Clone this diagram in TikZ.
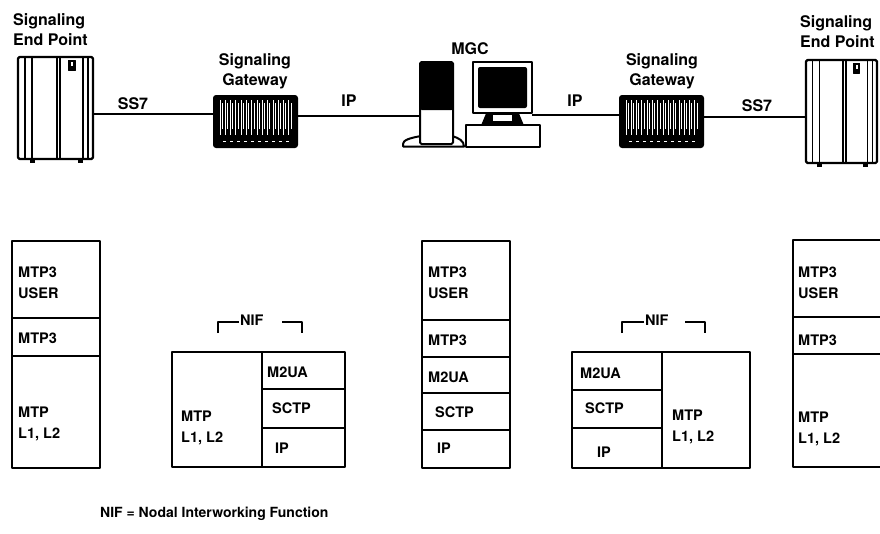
\documentclass[tikz,border=0pt]{standalone}
\usepackage{fontspec}
\setmainfont{TeX Gyre Heros}
\usetikzlibrary{calc}

\tikzset{
  toplbl/.style={font=\bfseries\fontsize{16}{20}\selectfont, inner sep=0, align=center},
  stk/.style={font=\bfseries\fontsize{14.5}{20.5}\selectfont, inner sep=0, align=left, anchor=north west},
  layer/.style={draw, line width=2.2pt},
  wire/.style={line width=2.3pt},
  bracket/.style={line width=2pt},
  devbox/.style={inner sep=0, anchor=north west},
  % telephone-exchange cabinet, origin at its top left corner
  cabinet/.pic={
    \draw[line width=2.2pt, fill=white, rounded corners=1.5pt] (0,0) rectangle (75,102);
    \foreach \x in {7,14,39,42,65,70} \draw[line width=1.5pt] (\x,0) -- (\x,102);
    \filldraw[line width=1pt] (50,3) rectangle (57,13);
    \fill[white] (52.5,5) rectangle (54.5,9);
    \fill (12,102) rectangle (17,105.5);
    \fill (60,102) rectangle (65,105.5);
  },
  % signaling gateway rack, origin at its top left corner
  gateway/.pic={
    \fill[rounded corners=3pt] (0,0) rectangle (85,53);
    \foreach \i in {0,...,13} {
      \draw[white, line width=0.9pt] ({7+\i*5.3},5) -- ({7+\i*5.3},40);
      \draw[white, line width=0.5pt] ({9+\i*5.3},8) -- ({9+\i*5.3},34);
    }
    \foreach \i in {0,...,9} \draw[white, line width=0.9pt] ({10+\i*7},46) -- ++(3,0);
  }
}

\begin{document}
\begin{tikzpicture}[x=1pt, y=-1pt, line join=round]
\useasboundingbox (0,0) rectangle (880,533);

% ---------------- network devices ----------------
\node[devbox, minimum width=75, minimum height=102] (epL) at (18,57) {};
\pic at (18,57) {cabinet};
\node[toplbl, align=left, anchor=north west] (epLlbl) at (13,13) {Signaling\\End Point};

\node[devbox, minimum width=85, minimum height=53] (gwL) at (213,95) {};
\pic at (213,95) {gateway};
\node[toplbl, anchor=north] (gwLlbl) at (255,53) {Signaling\\Gateway};

% media gateway controller: tower and workstation
\node[devbox, minimum width=33, minimum height=83] (tower) at (420,62) {};
\node[devbox, minimum width=59, minimum height=51] (monitor) at (473,62) {};
\draw[line width=2pt, fill=white] (421,136) .. controls (410,138) and (403,140) .. (403,144)
  -- (403,146.5) -- (464,146.5) .. controls (464,141) and (459,138) .. (452,136) -- cycle;
\draw[line width=2pt, fill=white, rounded corners=1.5pt] (420,62) rectangle (453,144);
\fill[rounded corners=1.5pt] (420,62) rectangle (453,110);
\filldraw[line width=1.5pt] (482,125) -- (487,113) -- (518,113) -- (523,125) -- cycle;
\fill[white] (493,115) rectangle (512,121);
\draw[line width=2pt, fill=white] (466,125) rectangle (540,147);
\draw[line width=2pt, fill=white] (473,62) rectangle (532,113);
\fill[rounded corners=2pt] (478,67) rectangle (527,108);
\node[toplbl, anchor=north] (mgclbl) at (470,42) {MGC};

\node[devbox, minimum width=85, minimum height=53] (gwR) at (619,95) {};
\pic at (619,95) {gateway};
\node[toplbl, anchor=north] (gwRlbl) at (662,53) {Signaling\\Gateway};

\node[devbox, minimum width=71, minimum height=103] (epR) at (806,60) {};
\pic[xscale=0.947, yscale=1.01] at (806,60) {cabinet};
\node[toplbl, align=left, anchor=north west] (epRlbl) at (800,15) {Signaling\\End Point};

% ---------------- links ----------------
\coordinate (l1) at ($(epL.east)+(0,6)$);
\draw[wire] (l1) -- (l1 -| gwL.west);
\node[toplbl, anchor=north] (ss7L) at (133,97) {SS7};

\coordinate (l2) at ($(gwL.east)+(0,-6)$);
\draw[wire] (l2) -- (l2 -| tower.west);
\node[toplbl, anchor=north] (ipL) at (349,95) {IP};

\coordinate (l3) at ($(monitor.east)+(0,27.5)$);
\draw[wire] (l3) -- (l3 -| gwR.west);
\node[toplbl, anchor=north] (ipR) at (575,95) {IP};

\coordinate (l4) at ($(gwR.east)+(0,-5)$);
\draw[wire] (l4) -- (l4 -| epR.west);
\node[toplbl, anchor=north] (ss7R) at (757,99) {SS7};

% ---------------- protocol stacks ----------------
% left signaling end point
\draw[layer] (12,241) rectangle (100,468);
\draw[layer] (12,318) -- (100,318) (12,356) -- (100,356);
\node[stk] (aUser) at (18,267) {MTP3\\USER};
\node[stk] (aMtp3) at (18,333) {MTP3};
\node[stk] (aMtp)  at (18,407) {MTP\\L1, L2};

% left gateway (NIF)
\draw[layer] (172,352) rectangle (345,467);
\draw[layer] (262,352) -- (262,467) (262,389) -- (345,389) (262,428) -- (345,428);
\node[stk] (bMtp)  at (181,411) {MTP\\L1, L2};
\node[stk] (bM2ua) at (267,367) {M2UA};
\node[stk] (bSctp) at (272,403) {SCTP};
\node[stk] (bIp)   at (275,443) {IP};
\node[stk] (nifL)  at (240,315) {NIF};
\draw[bracket] (218,333) -- (218,322) -- (239,322);
\draw[bracket] (282,322) -- (302,322) -- (302,333);

% media gateway controller
\draw[layer] (422,241) rectangle (510,468);
\draw[layer] (422,320) -- (510,320) (422,357) -- (510,357) (422,393) -- (510,393) (422,430) -- (510,430);
\node[stk] (cUser) at (428,267) {MTP3\\USER};
\node[stk] (cMtp3) at (428,335) {MTP3};
\node[stk] (cM2ua) at (428,372) {M2UA};
\node[stk] (cSctp) at (435,407) {SCTP};
\node[stk] (cIp)   at (437,443) {IP};

% right gateway (NIF)
\draw[layer] (572,352) rectangle (750,468);
\draw[layer] (662,352) -- (662,468) (572,390) -- (662,390) (572,428) -- (662,428);
\node[stk] (dM2ua) at (580,368) {M2UA};
\node[stk] (dSctp) at (585,403) {SCTP};
\node[stk] (dIp)   at (597,447) {IP};
\node[stk] (dMtp)  at (672,410) {MTP\\L1, L2};
\node[stk] (nifR)  at (645,315) {NIF};
\draw[bracket] (622,333) -- (622,322) -- (644,322);
\draw[bracket] (685,322) -- (705,322) -- (705,333);

% right signaling end point
\draw[layer] (793,240) rectangle (884,467);
\draw[layer] (793,317) -- (884,317) (793,354) -- (884,354);
\node[stk] (eUser) at (798,267) {MTP3\\USER};
\node[stk] (eMtp3) at (798,335) {MTP3};
\node[stk] (eMtp)  at (798,412) {MTP\\L1, L2};

% legend
\node[stk, font=\bfseries\fontsize{14}{17}\selectfont] (legend) at (100,507) {NIF = Nodal Interworking Function};
\end{tikzpicture}
\end{document}
